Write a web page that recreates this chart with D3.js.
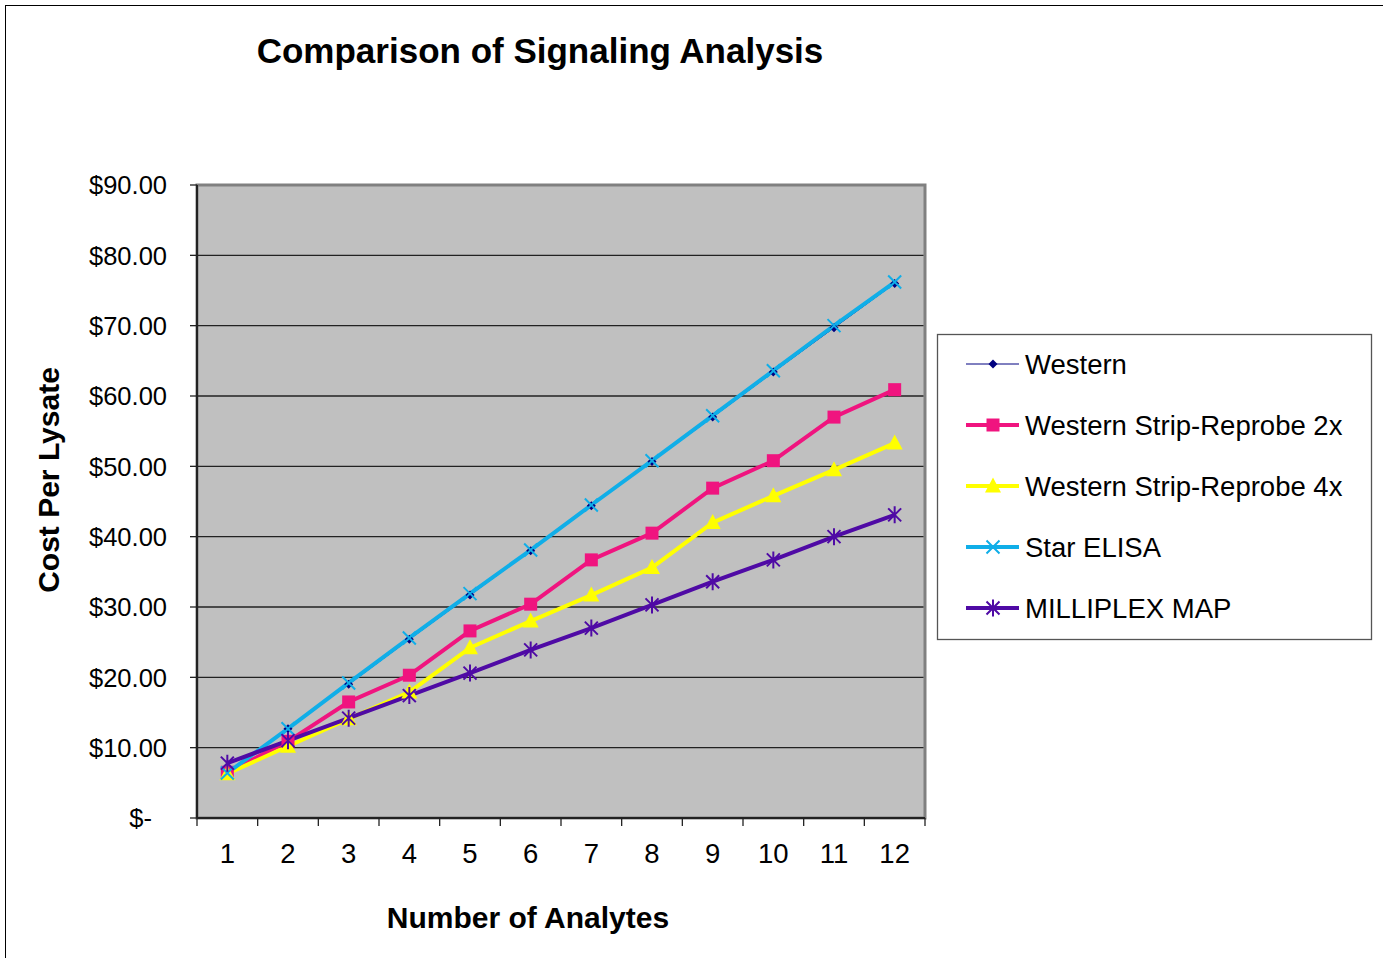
<!DOCTYPE html>
<html>
<head>
<meta charset="utf-8">
<script src="https://cdn.jsdelivr.net/npm/d3@7"></script>
<style>
  body { margin: 0; background: #fff; }
  svg { display: block; font-family: "Liberation Sans", Arial, sans-serif; }
</style>
</head>
<body>
<div id="chart"></div>
<script>
const width = 1383, height = 958

// data
const analytes = [1, 2, 3, 4, 5, 6, 7, 8, 9, 10, 11, 12]
const western = [6.3, 12.7, 19.0, 25.4, 31.7, 38.0, 44.4, 50.7, 57.0, 63.4, 69.7, 76.0]
const western2x = [6.5, 10.9, 16.5, 20.3, 26.6, 30.4, 36.7, 40.5, 46.9, 50.8, 57.0, 60.9]
const western4x = [6.3, 10.2, 14.1, 17.9, 24.2, 28.0, 31.7, 35.6, 42.0, 45.8, 49.5, 53.3]
const starElisa = [6.4, 12.7, 19.2, 25.6, 31.9, 38.1, 44.5, 50.8, 57.2, 63.6, 70.0, 76.2]
const milliplex = [7.8, 11.0, 14.2, 17.4, 20.6, 23.9, 27.0, 30.3, 33.6, 36.7, 40.0, 43.1]
const yTicks = [0, 10, 20, 30, 40, 50, 60, 70, 80, 90]

const series = [
    {name: "Western", values: western, color: "#000080", lw: 1, marker: "diamond"},
    {name: "Western Strip-Reprobe 2x", values: western2x, color: "#F0147F", lw: 4, marker: "square"},
    {name: "Western Strip-Reprobe 4x", values: western4x, color: "#FFFF00", lw: 4, marker: "triangle"},
    {name: "Star ELISA", values: starElisa, color: "#10AEE8", lw: 4, marker: "x"},
    {name: "MILLIPLEX MAP", values: milliplex, color: "#4F0AA5", lw: 4, marker: "star"},
]

const plot = {left: 197, right: 925, top: 185, bottom: 818}

const svg = d3.select("#chart").append("svg")
    .attr("width", width)
    .attr("height", height)

// outer chart border
svg.append("rect")
    .attr("x", 5.5).attr("y", 5.5)
    .attr("width", 1400).attr("height", 1000)
    .attr("fill", "#fff")
    .attr("stroke", "#000").attr("stroke-width", 1)

const x = d3.scaleBand().domain(analytes).range([plot.left, plot.right]).padding(0)
const y = d3.scaleLinear().domain([0, 90]).range([plot.bottom, plot.top])

// plot area
svg.append("rect")
    .attr("x", plot.left).attr("y", plot.top)
    .attr("width", plot.right - plot.left).attr("height", plot.bottom - plot.top)
    .attr("fill", "#C0C0C0")
    .attr("stroke", "#808080").attr("stroke-width", 3)

// gridlines
svg.append("g").selectAll("line")
    .data(yTicks.filter(d => d > 0 && d < 90))
    .join("line")
    .attr("x1", plot.left).attr("x2", plot.right - 1.5)
    .attr("y1", d => y(d)).attr("y2", d => y(d))
    .attr("stroke", "#222").attr("stroke-width", 1.3)

// y axis
const yAxis = svg.append("g")
yAxis.append("line")
    .attr("x1", plot.left).attr("x2", plot.left)
    .attr("y1", plot.top).attr("y2", plot.bottom)
    .attr("stroke", "#222").attr("stroke-width", 2)
yAxis.selectAll("line.tick")
    .data(yTicks)
    .join("line").attr("class", "tick")
    .attr("x1", plot.left - 7).attr("x2", plot.left)
    .attr("y1", d => y(d)).attr("y2", d => y(d))
    .attr("stroke", "#222").attr("stroke-width", 1.3)
yAxis.selectAll("text")
    .data(yTicks)
    .join("text")
    .attr("x", d => d === 0 ? 152 : 167)
    .attr("y", d => y(d))
    .attr("dy", "0.36em")
    .attr("text-anchor", "end")
    .attr("font-size", "25.5px")
    .attr("fill", "#000")
    .text(d => d === 0 ? "$-" : "$" + d.toFixed(2))

// x axis
const xAxis = svg.append("g")
xAxis.append("line")
    .attr("x1", plot.left).attr("x2", plot.right)
    .attr("y1", plot.bottom).attr("y2", plot.bottom)
    .attr("stroke", "#222").attr("stroke-width", 2)
xAxis.selectAll("line.tick")
    .data(analytes.concat([null]))
    .join("line").attr("class", "tick")
    .attr("x1", d => d === null ? plot.right : x(d))
    .attr("x2", d => d === null ? plot.right : x(d))
    .attr("y1", plot.bottom).attr("y2", plot.bottom + 8)
    .attr("stroke", "#222").attr("stroke-width", 1.3)
xAxis.selectAll("text")
    .data(analytes)
    .join("text")
    .attr("x", d => x(d) + x.bandwidth() / 2)
    .attr("y", 863)
    .attr("text-anchor", "middle")
    .attr("font-size", "27.5px")
    .attr("fill", "#000")
    .text(d => d)

// titles
svg.append("text")
    .attr("x", 540).attr("y", 63)
    .attr("text-anchor", "middle")
    .attr("font-size", "35px").attr("font-weight", "bold")
    .text("Comparison of Signaling Analysis")

svg.append("text")
    .attr("x", 528).attr("y", 928)
    .attr("text-anchor", "middle")
    .attr("font-size", "30px").attr("font-weight", "bold")
    .text("Number of Analytes")

svg.append("text")
    .attr("transform", "translate(59,480) rotate(-90)")
    .attr("text-anchor", "middle")
    .attr("font-size", "30px").attr("font-weight", "bold")
    .text("Cost Per Lysate")

// markers
function markerPath(type) {
    if (type === "diamond") return "M0,-4.5L4.5,0L0,4.5L-4.5,0Z"
    if (type === "square") return "M-6.5,-6.5H6.5V6.5H-6.5Z"
    if (type === "triangle") return "M0,-8.5L8,6.5H-8Z"
    if (type === "x") return "M-6.5,-6.5L6.5,6.5M-6.5,6.5L6.5,-6.5"
    return "M-6.5,-6.5L6.5,6.5M-6.5,6.5L6.5,-6.5M0,-8.5V8.5"
}

const line = d3.line()
    .x((d, i) => x(analytes[i]) + x.bandwidth() / 2)
    .y(d => y(d))

svg.append("g").selectAll("path")
    .data(series)
    .join("path")
    .attr("d", d => line(d.values))
    .attr("fill", "none")
    .attr("stroke", d => d.color)
    .attr("stroke-width", d => d.lw)
    .attr("stroke-linejoin", "round")

series.forEach(s => {
    const stroked = s.marker === "x" || s.marker === "star"
    svg.append("g").selectAll("path")
        .data(s.values)
        .join("path")
        .attr("transform", (d, i) => "translate(" + (x(analytes[i]) + x.bandwidth() / 2) + "," + y(d) + ")")
        .attr("d", markerPath(s.marker))
        .attr("fill", stroked ? "none" : s.color)
        .attr("stroke", stroked ? s.color : "none")
        .attr("stroke-width", 2)
})

// legend
const legend = svg.append("g")
legend.append("rect")
    .attr("x", 937.5).attr("y", 334.5)
    .attr("width", 434).attr("height", 305)
    .attr("fill", "#fff")
    .attr("stroke", "#555").attr("stroke-width", 1.3)

const items = legend.selectAll("g.item")
    .data(series)
    .join("g").attr("class", "item")
    .attr("transform", (d, i) => "translate(0," + (364 + i * 61) + ")")

items.append("line")
    .attr("x1", 966).attr("x2", 1019)
    .attr("y1", 0).attr("y2", 0)
    .attr("stroke", d => d.color)
    .attr("stroke-width", d => d.lw)

items.append("path")
    .attr("transform", "translate(993,0)")
    .attr("d", d => markerPath(d.marker))
    .attr("fill", d => (d.marker === "x" || d.marker === "star") ? "none" : d.color)
    .attr("stroke", d => (d.marker === "x" || d.marker === "star") ? d.color : "none")
    .attr("stroke-width", 2)

items.append("text")
    .attr("x", 1025).attr("y", 0)
    .attr("dy", "0.36em")
    .attr("font-size", "27.5px")
    .attr("fill", "#000")
    .text(d => d.name)
</script>
</body>
</html>
